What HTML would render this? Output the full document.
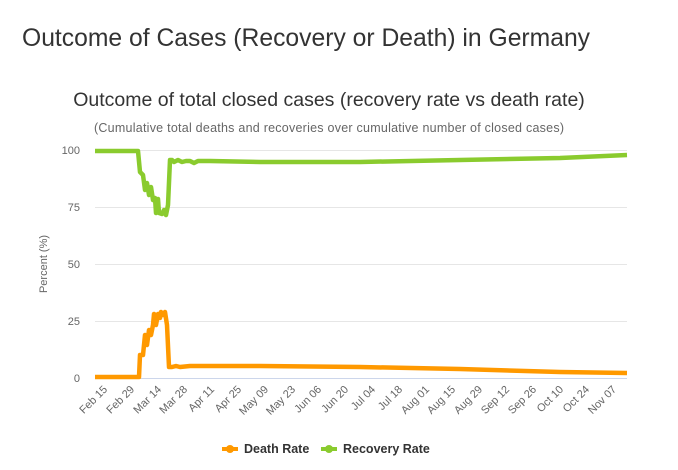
<!DOCTYPE html>
<html><head><meta charset="utf-8"><style>
body{margin:0;background:#fff;font-family:"Liberation Sans",sans-serif;}
</style></head><body>
<svg width="678" height="470" xmlns="http://www.w3.org/2000/svg" style="display:block">
<text x="22" y="46" font-size="24.7" fill="#333">Outcome of Cases (Recovery or Death) in Germany</text>
<text x="329" y="106" font-size="19.5" fill="#333" text-anchor="middle">Outcome of total closed cases (recovery rate vs death rate)</text>
<text x="329" y="132" font-size="12.5" fill="#666" text-anchor="middle" textLength="470">(Cumulative total deaths and recoveries over cumulative number of closed cases)</text>
<g stroke="#e6e6e6" stroke-width="1">
<line x1="95" x2="627" y1="150.5" y2="150.5"/><line x1="95" x2="627" y1="207.5" y2="207.5"/>
<line x1="95" x2="627" y1="264.5" y2="264.5"/><line x1="95" x2="627" y1="321.5" y2="321.5"/>
</g>
<line x1="95" x2="627" y1="378.5" y2="378.5" stroke="#ccd6eb"/>
<g font-size="11" fill="#666" text-anchor="end">
<text x="80" y="154">100</text><text x="80" y="211">75</text><text x="80" y="268">50</text><text x="80" y="325">25</text><text x="80" y="382">0</text>
</g>
<text transform="translate(47,264) rotate(-90)" font-size="11" fill="#666" text-anchor="middle">Percent (%)</text>
<polyline fill="none" stroke="#8ACB2E" stroke-width="4.5" stroke-linejoin="round" points="95,151 138,151 140,172 143,175 145,190 147,183 149,195 151,187 153,200 155,198 156,213 158,199 159,213 162,214 164,210 166,215 168,205 170,160 172,160 174,162 176,161 178,160 182,162 186,161 190,161 194,163 198,161 210,161 260,162 360,162 460,160 560,158 627,155"/>
<polyline fill="none" stroke="#FF9900" stroke-width="4.5" stroke-linejoin="round" points="95,377 139,377 140,355 143,355 145,335 147,345 149,330 151,335 153,325 154,314 156,325 158,314 160,318 161,312 163,315 165,312 167,325 169,367 172,367 176,366 180,367 190,366 196,366 200,366 260,366 360,367 460,369 560,372 627,373"/>
<g transform="translate(222,449)">
<line x1="0" x2="16" y1="0" y2="0" stroke="#FF9900" stroke-width="4"/><circle cx="8" cy="0" r="4" fill="#FF9900"/>
<text x="22" y="4" font-size="12.5" font-weight="bold" fill="#333">Death Rate</text>
<line x1="99" x2="115" y1="0" y2="0" stroke="#8ACB2E" stroke-width="4"/><circle cx="107" cy="0" r="4" fill="#8ACB2E"/>
<text x="121" y="4" font-size="12.5" font-weight="bold" fill="#333">Recovery Rate</text>
</g>
<g font-size="11" fill="#666" text-anchor="end">
<text transform="translate(108,390) rotate(-45)">Feb 15</text>
<text transform="translate(135,390) rotate(-45)">Feb 29</text>
<text transform="translate(162,390) rotate(-45)">Mar 14</text>
<text transform="translate(188,390) rotate(-45)">Mar 28</text>
<text transform="translate(215,390) rotate(-45)">Apr 11</text>
<text transform="translate(242,390) rotate(-45)">Apr 25</text>
<text transform="translate(269,390) rotate(-45)">May 09</text>
<text transform="translate(296,390) rotate(-45)">May 23</text>
<text transform="translate(322,390) rotate(-45)">Jun 06</text>
<text transform="translate(349,390) rotate(-45)">Jun 20</text>
<text transform="translate(376,390) rotate(-45)">Jul 04</text>
<text transform="translate(403,390) rotate(-45)">Jul 18</text>
<text transform="translate(430,390) rotate(-45)">Aug 01</text>
<text transform="translate(456,390) rotate(-45)">Aug 15</text>
<text transform="translate(483,390) rotate(-45)">Aug 29</text>
<text transform="translate(510,390) rotate(-45)">Sep 12</text>
<text transform="translate(537,390) rotate(-45)">Sep 26</text>
<text transform="translate(564,390) rotate(-45)">Oct 10</text>
<text transform="translate(590,390) rotate(-45)">Oct 24</text>
<text transform="translate(617,390) rotate(-45)">Nov 07</text>
</g>
</svg>
</body></html>
